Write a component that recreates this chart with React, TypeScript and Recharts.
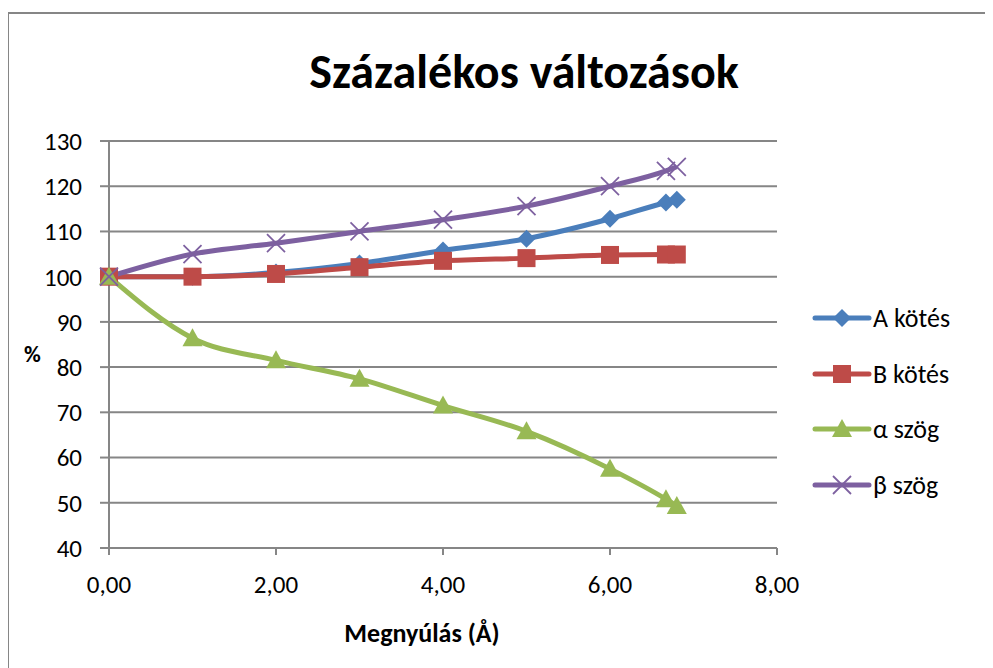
import React from 'react';
import { LineChart, Line, XAxis, YAxis, CartesianGrid, Label } from 'recharts';

// elongation (Å)
const xValues = [0, 1, 2, 3, 4, 5, 6, 6.67, 6.8];
const aKotes = [100, 100, 100.9, 102.9, 105.8, 108.4, 112.8, 116.4, 117.0];
const bKotes = [100, 100, 100.6, 102.1, 103.5, 104.1, 104.8, 104.9, 104.9];
const alphaSzog = [100, 86.4, 81.5, 77.4, 71.5, 65.8, 57.5, 50.8, 49.3];
const betaSzog = [100, 105, 107.4, 110, 112.6, 115.6, 120, 123.4, 124.3];

const xTicks = [0, 2, 4, 6, 8];
const yTicks = [40, 50, 60, 70, 80, 90, 100, 110, 120, 130];

const seriesKeys = ['a', 'b', 'alpha', 'beta'];
const seriesNames = ['A kötés', 'B kötés', 'α szög', 'β szög'];
const seriesColors = ['#4a7ebb', '#be4b48', '#98b954', '#7d60a0'];
const seriesShapes = ['diamond', 'square', 'triangle', 'cross'];

const FONT = 'Carlito, Lato, "Open Sans", sans-serif';
const GRID = '#868686';

const data = xValues.map((x, i) => ({
  x,
  a: aKotes[i],
  b: bKotes[i],
  alpha: alphaSzog[i],
  beta: betaSzog[i],
}));

const Marker = ({ cx, cy, shape, color }: { cx: number; cy: number; shape: string; color: string }) => {
  if (cx == null || cy == null) return null;
  if (shape === 'diamond') {
    return <polygon points={`${cx},${cy - 9} ${cx + 9},${cy} ${cx},${cy + 9} ${cx - 9},${cy}`} fill={color} />;
  }
  if (shape === 'square') {
    return <rect x={cx - 9} y={cy - 9} width={18} height={18} fill={color} />;
  }
  if (shape === 'triangle') {
    return <polygon points={`${cx},${cy - 10} ${cx + 10},${cy + 8} ${cx - 10},${cy + 8}`} fill={color} />;
  }
  return (
    <g stroke={color} strokeWidth={1.8}>
      <line x1={cx - 9} y1={cy - 9} x2={cx + 9} y2={cy + 9} />
      <line x1={cx - 9} y1={cy + 9} x2={cx + 9} y2={cy - 9} />
    </g>
  );
};

const LegendBox = () => (
  <div style={{ position: 'absolute', left: 804, top: 277, fontFamily: FONT, fontSize: 26 }}>
    {seriesNames.map((name, i) => (
      <div key={name} style={{ display: 'flex', alignItems: 'center', height: 55.7 }}>
        <svg width={60} height={24}>
          <line x1={3} y1={12} x2={57} y2={12} stroke={seriesColors[i]} strokeWidth={5} strokeLinecap="round" />
          <Marker cx={30} cy={12} shape={seriesShapes[i]} color={seriesColors[i]} />
        </svg>
        <span style={{ marginLeft: 1 }}>{name}</span>
      </div>
    ))}
  </div>
);

export default function App() {
  return (
    <div style={{ position: 'relative', width: 985, height: 655, marginTop: 5, fontFamily: FONT }}>
      <div
        style={{
          position: 'absolute', left: -1, top: -1, width: 984, height: 656,
          borderLeft: `2px solid ${GRID}`, borderTop: `2px solid ${GRID}`,
        }}
      />
      <div style={{ position: 'absolute', left: 0, width: 1032, top: 29, textAlign: 'center', fontSize: 48, fontWeight: 'bold' }}>
        Százalékos változások
      </div>
      <LineChart
        width={985}
        height={655}
        data={data}
        margin={{ top: 128, right: 216, bottom: 20, left: 10 }}
        style={{ position: 'absolute', left: 0, top: 0 }}
      >
        <CartesianGrid vertical={false} stroke={GRID} strokeWidth={2} />
        <XAxis
          type="number"
          dataKey="x"
          domain={[0, 8]}
          ticks={xTicks}
          tickFormatter={(v: number) => v.toFixed(2).replace('.', ',')}
          height={100}
          tickSize={7}
          tickMargin={20}
          axisLine={{ stroke: GRID, strokeWidth: 2 }}
          tickLine={{ stroke: GRID, strokeWidth: 2 }}
          tick={{ fill: '#000', fontSize: 25, fontFamily: FONT }}
        >
          <Label value="Megnyúlás (Å)" position="insideBottom" offset={6} dx={-21}
            style={{ fontSize: 26, fontWeight: 'bold', fill: '#000', fontFamily: FONT }} />
        </XAxis>
        <YAxis
          type="number"
          domain={[40, 130]}
          ticks={yTicks}
          width={91}
          tickSize={9}
          tickMargin={18}
          axisLine={{ stroke: GRID, strokeWidth: 2 }}
          tickLine={{ stroke: GRID, strokeWidth: 2 }}
          tick={{ fill: '#000', fontSize: 25, fontFamily: FONT }}
        >
          <Label value="%" position="insideLeft" offset={6} dy={9}
            style={{ fontSize: 23, fontWeight: 'bold', fill: '#000', fontFamily: FONT }} />
        </YAxis>
        {seriesKeys.map((key, i) => (
          <Line
            key={key}
            type="monotone"
            dataKey={key}
            name={seriesNames[i]}
            stroke={seriesColors[i]}
            strokeWidth={5}
            isAnimationActive={false}
            dot={(p: any) => (
              <Marker key={`${key}-${p.index}`} cx={p.cx} cy={p.cy} shape={seriesShapes[i]} color={seriesColors[i]} />
            )}
            activeDot={false}
          />
        ))}
      </LineChart>
      <LegendBox />
    </div>
  );
}
